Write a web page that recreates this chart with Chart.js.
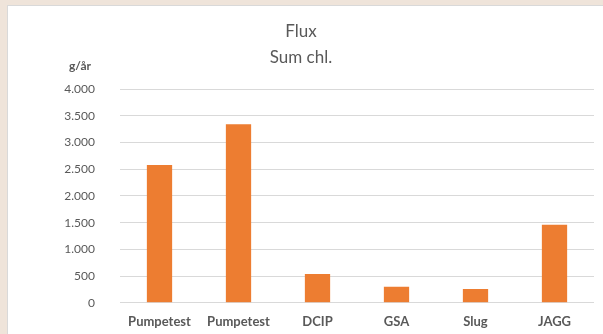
<!DOCTYPE html>
<html>
<head>
<meta charset="utf-8">
<script src="https://cdn.jsdelivr.net/npm/chart.js@4"></script>
<style>
  html, body { margin: 0; padding: 0; background: #efe4da; overflow: hidden; }
  #box { position: absolute; left: 7px; top: 5px; width: 600px; height: 331px;
         background: #ffffff; border: 1px solid #d9d9d9; box-sizing: border-box; }
  #box canvas { display: block; }
</style>
</head>
<body>
<div id="box"><canvas id="c" width="598" height="329"></canvas></div>
<script>
// Flux of sum chlorinated compounds per investigation method (g/år)
const categories = ["Pumpetest", "Pumpetest", "DCIP", "GSA", "Slug", "JAGG"];
const fluxValues = [2580, 3340, 540, 300, 260, 1460];
const yTicks = [0, 500, 1000, 1500, 2000, 2500, 3000, 3500, 4000];
const titleLines = ["Flux", "Sum chl."];
const unitLabel = "g/år";

const grey = "#595959";
const fmt = v => String(v).replace(/\B(?=(\d{3})+(?!\d))/g, ".");

const unitPlugin = {
  id: "unitLabel",
  afterDraw(chart) {
    const ctx = chart.ctx;
    ctx.save();
    ctx.font = "bold 12px Lato, 'Open Sans', sans-serif";
    ctx.fillStyle = grey;
    ctx.textAlign = "left";
    ctx.textBaseline = "middle";
    ctx.fillText(unitLabel, 61, 60);
    ctx.restore();
  }
};

new Chart(document.getElementById("c"), {
  type: "bar",
  data: {
    labels: categories,
    datasets: [{
      data: fluxValues,
      backgroundColor: "#ed7d31",
      categoryPercentage: 1,
      barPercentage: 0.32
    }]
  },
  options: {
    responsive: false,
    animation: false,
    layout: { padding: { top: 0, right: 12, bottom: 0, left: 0 } },
    plugins: {
      legend: { display: false },
      tooltip: { enabled: false },
      title: {
        display: true,
        text: titleLines,
        color: grey,
        font: { family: "Lato, 'Open Sans', sans-serif", size: 17, weight: "normal", lineHeight: 1.5 },
        padding: { top: 13, bottom: 19 }
      }
    },
    scales: {
      x: {
        afterFit(scale) { scale.height = 32; },
        grid: { display: false, drawTicks: false },
        border: { display: false },
        ticks: {
          color: grey,
          padding: 11,
          maxRotation: 0,
          autoSkip: false,
          font: { family: "Lato, 'Open Sans', sans-serif", size: 13, weight: "bold" }
        }
      },
      y: {
        min: 0,
        max: 4000,
        afterBuildTicks(scale) { scale.ticks = yTicks.map(v => ({ value: v })); },
        afterFit(scale) { scale.width = 112; },
        grid: { color: "#d9d9d9", lineWidth: 1, drawTicks: false },
        border: { display: false },
        ticks: {
          color: grey,
          padding: 25,
          font: { family: "Lato, 'Open Sans', sans-serif", size: 12 },
          callback: v => fmt(v)
        }
      }
    }
  },
  plugins: [unitPlugin]
});
</script>
</body>
</html>
